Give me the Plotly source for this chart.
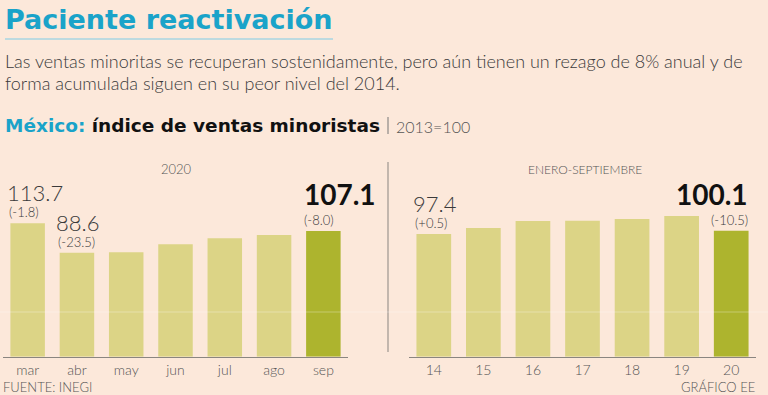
import plotly.graph_objects as go

# ---- data ----
meses = ["mar", "abr", "may", "jun", "jul", "ago", "sep"]
indice_mensual = [113.7, 88.6, 89.1, 95.8, 100.9, 103.7, 107.1]
var_mensual = {"mar": "(-1.8)", "abr": "(-23.5)", "sep": "(-8.0)"}

anios = ["14", "15", "16", "17", "18", "19", "20"]
indice_anual = [97.4, 102.2, 107.8, 107.9, 109.4, 111.8, 100.1]
var_anual = {"14": "(+0.5)", "20": "(-10.5)"}

BG = "#fce8da"
LIGHT = "#dcd486"
DARK = "#adb42e"
CYAN = "#1aa3c9"
TXT = "#3a3a3a"
FONT = "Lato"
LFONT = "Lato Light, Lato"
BFONT = "DejaVu Sans"

W, H = 768, 395


def px_x(p):
    return p / W


def px_y(p):
    return 1 - p / H


fig = go.Figure()

fig.add_trace(go.Bar(
    x=meses, y=indice_mensual, xaxis="x", yaxis="y",
    marker=dict(color=[LIGHT] * (len(meses) - 1) + [DARK], line=dict(width=0)),
    hoverinfo="x+y", showlegend=False,
))
fig.add_trace(go.Bar(
    x=anios, y=indice_anual, xaxis="x2", yaxis="y2",
    marker=dict(color=[LIGHT] * (len(anios) - 1) + [DARK], line=dict(width=0)),
    hoverinfo="x+y", showlegend=False,
))

y_dom = [px_y(356.7), px_y(150)]
dom_h = 356.7 - 150

fig.update_layout(
    width=W, height=H,
    margin=dict(l=0, r=0, t=0, b=0),
    paper_bgcolor=BG, plot_bgcolor=BG,
    bargap=0.3,
    font=dict(family=FONT, color=TXT),
    xaxis=dict(domain=[px_x(3), px_x(348)], type="category", range=[-0.5, len(meses) - 0.5],
               showline=True, linecolor="#8a8580", linewidth=1, showgrid=False, ticks="",
               tickfont=dict(size=14, color="#555", family=LFONT), fixedrange=True),
    yaxis=dict(domain=y_dom, range=[0, dom_h / 1.173], visible=False, fixedrange=True),
    xaxis2=dict(domain=[px_x(409), px_x(756)], type="category", range=[-0.5, len(anios) - 0.5],
                showline=True, linecolor="#8a8580", linewidth=1, showgrid=False, ticks="",
                tickfont=dict(size=14, color="#555", family=LFONT), fixedrange=True,
                anchor="y2"),
    yaxis2=dict(domain=y_dom, range=[0, dom_h / 1.259], visible=False, fixedrange=True,
                anchor="x2"),
)

ann = []

# header texts
ann.append(dict(xref="paper", yref="paper", x=px_x(3), y=px_y(19), xanchor="left", yanchor="middle",
                text="<b>Paciente reactivación</b>", showarrow=False,
                font=dict(size=27, color=CYAN, family=BFONT)))
ann.append(dict(xref="paper", yref="paper", x=px_x(3), y=px_y(61), xanchor="left", yanchor="middle",
                text="Las ventas minoritas se recuperan sostenidamente, pero aún tienen un rezago de 8% anual y de",
                showarrow=False, font=dict(size=18, color=TXT, family=LFONT, weight=300)))
ann.append(dict(xref="paper", yref="paper", x=px_x(3), y=px_y(83), xanchor="left", yanchor="middle",
                text="forma acumulada siguen en su peor nivel del 2014.",
                showarrow=False, font=dict(size=18, color=TXT, family=LFONT, weight=300)))
ann.append(dict(xref="paper", yref="paper", x=px_x(3), y=px_y(126), xanchor="left", yanchor="middle",
                text=f"<b><span style='color:{CYAN}'>México:</span> índice de ventas minoristas</b>",
                showarrow=False, font=dict(size=18.5, color="#111", family=BFONT)))
ann.append(dict(xref="paper", yref="paper", x=px_x(394), y=px_y(127), xanchor="left", yanchor="middle",
                text="2013=100", showarrow=False, font=dict(size=16, color="#555", family=LFONT, weight=300)))

# panel titles
ann.append(dict(xref="paper", yref="paper", x=px_x(176), y=px_y(169), xanchor="center", yanchor="middle",
                text="2020", showarrow=False, font=dict(size=13, color="#555", family=LFONT)))
ann.append(dict(xref="paper", yref="paper", x=px_x(585), y=px_y(169), xanchor="center", yanchor="middle",
                text="ENERO-SEPTIEMBRE", showarrow=False, font=dict(size=12, color="#555", family=LFONT)))

# footers
ann.append(dict(xref="paper", yref="paper", x=px_x(1), y=px_y(387), xanchor="left", yanchor="middle",
                text="FUENTE: INEGI", showarrow=False, font=dict(size=13, color="#555", family=LFONT)))
ann.append(dict(xref="paper", yref="paper", x=px_x(757), y=px_y(387), xanchor="right", yanchor="middle",
                text="GRÁFICO EE", showarrow=False, font=dict(size=13, color="#555", family=LFONT)))


def bar_labels(xr, yr, cats, vals, changes):
    for i, c in enumerate(cats):
        if c not in changes:
            continue
        v = vals[i]
        is_last = i == len(cats) - 1
        right = is_last and xr == "x2"
        anchor = "right" if right else "left"
        xs = 19 if right else -21
        bold = is_last
        ann.append(dict(xref=xr, yref=yr, x=i, y=v, xanchor=anchor, yanchor="bottom",
                        xshift=xs, yshift=1, showarrow=False, text=changes[c],
                        font=dict(size=13, color=TXT, family=LFONT, weight=300)))
        ann.append(dict(xref=xr, yref=yr, x=i, y=v, xanchor=anchor, yanchor="bottom",
                        xshift=xs - (2 if not bold else 0), yshift=15 if not bold else 18,
                        showarrow=False,
                        text=(f"<b>{v:.1f}</b>" if bold else f"{v:.1f}"),
                        font=dict(size=28 if bold else 22, color="#111" if bold else TXT,
                                  family=FONT if bold else LFONT, weight=None if bold else 300)))


bar_labels("x", "y", meses, indice_mensual, var_mensual)
bar_labels("x2", "y2", anios, indice_anual, var_anual)

fig.update_layout(annotations=ann)

shapes = [
    # title underline
    dict(type="line", xref="paper", yref="paper", x0=px_x(5), x1=px_x(333), y0=px_y(39), y1=px_y(39),
         line=dict(color="#a8d6e2", width=1.5)),
    # heading separator
    dict(type="line", xref="paper", yref="paper", x0=px_x(388), x1=px_x(388), y0=px_y(117), y1=px_y(134),
         line=dict(color="#777", width=1)),
    # panel separator
    dict(type="line", xref="paper", yref="paper", x0=px_x(388), x1=px_x(388), y0=px_y(162), y1=px_y(352),
         line=dict(color="#8a8580", width=1)),
    # faint horizontal sheen across the panels
    dict(type="line", xref="paper", yref="paper", x0=0, x1=1, y0=px_y(312), y1=px_y(312),
         line=dict(color="rgba(255,255,255,0.3)", width=1), layer="above"),
]
fig.update_layout(shapes=shapes)

fig.write_html("out.html", post_script="document.body.style.margin='0';",
               config={"displayModeBar": False})
